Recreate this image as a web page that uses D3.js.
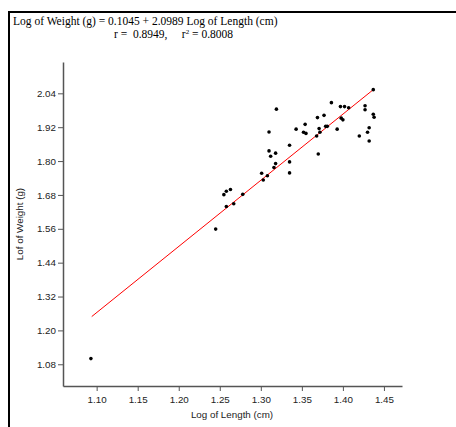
<!DOCTYPE html>
<html>
<head>
<meta charset="utf-8">
<script src="https://cdn.jsdelivr.net/npm/d3@7"></script>
<style>
  body { margin: 0; background: #fff; }
  svg { display: block; }
</style>
</head>
<body>
<svg id="chart" width="456" height="427"></svg>
<script>
// log length (x) and log weight (y)
var logLength = [1.437, 1.386, 1.397, 1.402, 1.407, 1.427, 1.427, 1.319, 1.437, 1.438,
                 1.377, 1.369, 1.398, 1.400, 1.354, 1.343, 1.352, 1.355, 1.371, 1.372,
                 1.379, 1.381, 1.393, 1.432, 1.430, 1.420, 1.432, 1.310, 1.368, 1.335,
                 1.310, 1.318, 1.312, 1.370, 1.335, 1.318, 1.316, 1.301, 1.335, 1.308,
                 1.303, 1.278, 1.245, 1.258, 1.267, 1.255, 1.258, 1.263, 1.093];
var logWeight = [2.053, 2.007, 1.993, 1.993, 1.989, 1.996, 1.982, 1.984, 1.966, 1.955,
                 1.962, 1.954, 1.952, 1.946, 1.930, 1.913, 1.902, 1.898, 1.915, 1.902,
                 1.923, 1.923, 1.913, 1.918, 1.902, 1.889, 1.871, 1.903, 1.889, 1.856,
                 1.836, 1.828, 1.817, 1.825, 1.797, 1.791, 1.777, 1.757, 1.758, 1.748,
                 1.733, 1.682, 1.559, 1.639, 1.649, 1.681, 1.693, 1.699, 1.100];

// fitted line as drawn
var fitX = [1.094, 1.437];
var fitY = [1.249, 2.053];

var xTicks = [1.10, 1.15, 1.20, 1.25, 1.30, 1.35, 1.40, 1.45];
var yTicks = [1.08, 1.20, 1.32, 1.44, 1.56, 1.68, 1.80, 1.92, 2.04];
var xDomain = [1.059, 1.472];
var yDomain = [1.003, 2.151];

var svg = d3.select("#chart");

var x = d3.scaleLinear().domain(xDomain).range([63, 402]);
var y = d3.scaleLinear().domain(yDomain).range([386, 62]);

// frame round the equation (right and bottom run off the page)
svg.append("path")
    .attr("d", "M9,428V12H457")
    .attr("fill", "none")
    .attr("stroke", "#000")
    .attr("stroke-width", 2);

var title = svg.append("g")
    .style("font-family", "'Liberation Serif', 'Times New Roman', serif")
    .style("font-size", "11.5px")
    .attr("fill", "#000");

title.append("text")
    .attr("x", 13)
    .attr("y", 25)
    .text("Log of Weight (g) = 0.1045 + 2.0989 Log of Length (cm)");

var t2 = title.append("text")
    .attr("x", 114)
    .attr("y", 38)
    .attr("xml:space", "preserve");
t2.append("tspan").text("r =  0.8949,     r");
t2.append("tspan").attr("dy", -4).style("font-size", "7px").text("2");
t2.append("tspan").attr("dy", 4).text(" = 0.8008");

var xAxis = d3.axisBottom(x)
    .tickValues(xTicks)
    .tickFormat(d3.format(".2f"))
    .tickSize(5)
    .tickSizeOuter(0);

var yAxis = d3.axisLeft(y)
    .tickValues(yTicks)
    .tickFormat(d3.format(".2f"))
    .tickSize(5)
    .tickSizeOuter(0);

var gx = svg.append("g")
    .attr("transform", "translate(0,386)")
    .call(xAxis);

var gy = svg.append("g")
    .attr("transform", "translate(63,0)")
    .call(yAxis);

[gx, gy].forEach(function(g) {
    g.select(".domain").attr("stroke", "#555").attr("stroke-width", 1.5);
    g.selectAll(".tick line").attr("stroke", "#555");
    g.selectAll("text")
        .style("font-family", "'Liberation Sans', Arial, sans-serif")
        .style("font-size", "9.8px")
        .attr("fill", "#222");
});
gx.selectAll("text").attr("dy", "0.9em");
gy.selectAll("text").attr("x", -7);

svg.append("text")
    .attr("x", 232)
    .attr("y", 418)
    .attr("text-anchor", "middle")
    .style("font-family", "'Liberation Sans', Arial, sans-serif")
    .style("font-size", "9.8px")
    .attr("fill", "#222")
    .text("Log of Length (cm)");

svg.append("text")
    .attr("transform", "translate(23,224) rotate(-90)")
    .attr("text-anchor", "middle")
    .style("font-family", "'Liberation Sans', Arial, sans-serif")
    .style("font-size", "9.8px")
    .attr("fill", "#222")
    .text("Lof of Weight (g)");

// red fit line
svg.append("line")
    .attr("x1", x(fitX[0]))
    .attr("y1", y(fitY[0]))
    .attr("x2", x(fitX[1]))
    .attr("y2", y(fitY[1]))
    .attr("stroke", "#f00")
    .attr("stroke-width", 1);

var points = logLength.map(function(d, i) { return { lx: d, lw: logWeight[i] }; });

svg.selectAll("circle.pt")
    .data(points)
    .enter().append("circle")
    .attr("class", "pt")
    .attr("cx", function(d) { return x(d.lx); })
    .attr("cy", function(d) { return y(d.lw); })
    .attr("r", 1.8)
    .attr("fill", "#000");
</script>
</body>
</html>
